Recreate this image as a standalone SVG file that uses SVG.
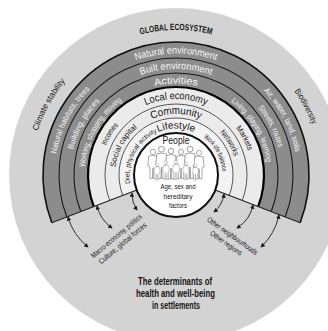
<svg xmlns="http://www.w3.org/2000/svg" xmlns:xlink="http://www.w3.org/1999/xlink" width="328" height="331" viewBox="0 0 328 331">
<style>
.t{font-family:"Liberation Sans Narrow","Liberation Sans",Arial,sans-serif;}
.w{fill:#f7f7f7;}
.k{fill:#161616;}
.arc{fill:none;}
.ar{fill:none;stroke:#1a1a1a;stroke-width:0.9;marker-start:url(#ah);marker-end:url(#ah);}
.pp{fill:#fff;stroke:#7d7d7d;stroke-width:0.7;}
</style>
<defs>
<marker id="ah" viewBox="0 0 6 6" refX="5" refY="3" markerWidth="5" markerHeight="5" orient="auto-start-reverse"><path d="M0,0 L6,3 L0,6 Z" fill="#1a1a1a"/></marker>
<path id="tp145" d="M40.63,226.97 A145,145 0 1 1 311.37,226.97"/>
<path id="tp121" d="M62.57,218.55 A121.5,121.5 0 1 1 289.43,218.55"/>
<path id="tp106" d="M77.04,212.99 A106,106 0 1 1 274.96,212.99"/>
<path id="tp91" d="M90.58,207.79 A91.5,91.5 0 1 1 261.42,207.79"/>
<path id="tp76" d="M105.05,202.24 A76,76 0 1 1 246.95,202.24"/>
<path id="tp61" d="M119.05,196.86 A61,61 0 1 1 232.95,196.86"/>
<path id="tp46" d="M132.59,191.67 A46.5,46.5 0 1 1 219.41,191.67"/>
<g id="pp" class="pp"><circle cx="0" cy="3" r="2.8"/><path d="M-4.5,7.5 Q0,5.8 4.5,7.5 L5.5,18 L3.5,18.5 L3,31 L0.6,31 L0,20 L-0.6,31 L-3,31 L-3.5,18.5 L-5.5,18 Z"/></g>
</defs>

<g id="ecosystem">
<circle cx="176" cy="175" r="167" fill="#d3d3d3"/>
<text class="t k" font-size="9" font-weight="bold"><textPath href="#tp145" startOffset="50%" text-anchor="middle" textLength="72" lengthAdjust="spacingAndGlyphs">GLOBAL ECOSYSTEM</textPath></text>
<text class="t k" font-size="8.5"><textPath href="#tp145" startOffset="22.5%" text-anchor="middle" textLength="57" lengthAdjust="spacingAndGlyphs">Climate stability</textPath></text>
<text class="t k" font-size="8.5"><textPath href="#tp145" startOffset="78%" text-anchor="middle" textLength="38" lengthAdjust="spacingAndGlyphs">Biodiversity</textPath></text>
</g>

<g id="bands-fill">
<path d="M176,175 L51.83,222.67 A133,133 0 1 1 300.17,222.67 Z" fill="#8c8c8c"/>
<path d="M176,175 L93.84,206.54 A88,88 0 1 1 258.16,206.54 Z" fill="#ebebeb"/>
<path d="M176,175 L122.78,195.43 A57,57 0 1 1 229.22,195.43 Z" fill="#f3f3f3"/>
</g>

<g id="band-lines" fill="none">
<path d="M51.83,222.67 A133,133 0 1 1 300.17,222.67" stroke="#111" stroke-width="1.6"/>
<path d="M66.77,216.93 A117,117 0 1 1 285.23,216.93" stroke="#1a1a1a" stroke-width="1.1"/>
<path d="M80.77,211.56 A102,102 0 1 1 271.23,211.56" stroke="#1a1a1a" stroke-width="1.1"/>
<path d="M109.71,200.45 A71,71 0 1 1 242.29,200.45" stroke="#444" stroke-width="0.9"/>
<path d="M122.78,195.43 A57,57 0 1 1 229.22,195.43" stroke="#444" stroke-width="0.9"/>
<path d="M93.84,206.54 A88,88 0 1 1 258.16,206.54" stroke="#000" stroke-width="2.2"/>
<path d="M136.79,190.05 L51.83,222.67 M215.21,190.05 L300.17,222.67" stroke="#222" stroke-width="1.1"/>
</g>

<g id="natural-environment">
<text class="t w" font-size="10"><textPath href="#tp121" startOffset="50%" text-anchor="middle" textLength="82" lengthAdjust="spacingAndGlyphs">Natural environment</textPath></text>
<text class="t w" font-size="8"><textPath href="#tp121" startOffset="21.8%" text-anchor="middle" textLength="74" lengthAdjust="spacingAndGlyphs">Natural habitats, trees</textPath></text>
<text class="t w" font-size="8"><textPath href="#tp121" startOffset="78.2%" text-anchor="middle" textLength="70" lengthAdjust="spacingAndGlyphs">Air, water, land, soils</textPath></text>
</g>

<g id="built-environment">
<text class="t w" font-size="10"><textPath href="#tp106" startOffset="50%" text-anchor="middle" textLength="72" lengthAdjust="spacingAndGlyphs">Built environment</textPath></text>
<text class="t w" font-size="8"><textPath href="#tp106" startOffset="22.5%" text-anchor="middle" textLength="56" lengthAdjust="spacingAndGlyphs">Building, places</textPath></text>
<text class="t w" font-size="8"><textPath href="#tp106" startOffset="78.3%" text-anchor="middle" textLength="45" lengthAdjust="spacingAndGlyphs">Streets, routes</textPath></text>
</g>

<g id="activities">
<text class="t w" font-size="10"><textPath href="#tp91" startOffset="50%" text-anchor="middle" textLength="43" lengthAdjust="spacingAndGlyphs">Activities</textPath></text>
<text class="t w" font-size="8"><textPath href="#tp91" startOffset="22.7%" text-anchor="middle" textLength="78" lengthAdjust="spacingAndGlyphs">Working, shopping, moving</textPath></text>
<text class="t w" font-size="8"><textPath href="#tp91" startOffset="76.8%" text-anchor="middle" textLength="72" lengthAdjust="spacingAndGlyphs">Living, playing, learning</textPath></text>
</g>

<g id="local-economy">
<text class="t k" font-size="10.5"><textPath href="#tp76" startOffset="50%" text-anchor="middle" textLength="62" lengthAdjust="spacingAndGlyphs">Local economy</textPath></text>
<text class="t k" font-size="8"><textPath href="#tp76" startOffset="23.8%" text-anchor="middle" textLength="24" lengthAdjust="spacingAndGlyphs">Incomes</textPath></text>
<text class="t k" font-size="8"><textPath href="#tp76" startOffset="77.8%" text-anchor="middle" textLength="26" lengthAdjust="spacingAndGlyphs">Markets</textPath></text>
</g>

<g id="community">
<text class="t k" font-size="10.5"><textPath href="#tp61" startOffset="50%" text-anchor="middle" textLength="50" lengthAdjust="spacingAndGlyphs">Community</textPath></text>
<text class="t k" font-size="8"><textPath href="#tp61" startOffset="22.5%" text-anchor="middle" textLength="46" lengthAdjust="spacingAndGlyphs">Social capital</textPath></text>
<text class="t k" font-size="8"><textPath href="#tp61" startOffset="76.6%" text-anchor="middle" textLength="28" lengthAdjust="spacingAndGlyphs">Networks</textPath></text>
</g>

<g id="lifestyle">
<text class="t k" font-size="10"><textPath href="#tp46" startOffset="50%" text-anchor="middle" textLength="37" lengthAdjust="spacingAndGlyphs">Lifestyle</textPath></text>
<text class="t k" font-size="6.8"><textPath href="#tp46" startOffset="22%" text-anchor="middle" textLength="62" lengthAdjust="spacingAndGlyphs">Diet, physical activity</textPath></text>
<text class="t k" font-size="6.8"><textPath href="#tp46" startOffset="77.5%" text-anchor="middle" textLength="40" lengthAdjust="spacingAndGlyphs">Work-life balance</textPath></text>
</g>

<g id="people">
<circle cx="176" cy="175" r="42" fill="#fff" stroke="#111" stroke-width="2"/>
<text class="t k" x="176" y="144" font-size="10.5" text-anchor="middle" textLength="27" lengthAdjust="spacingAndGlyphs">People</text>
<use href="#pp" transform="translate(153,149) scale(0.95)"/>
<use href="#pp" transform="translate(161.5,146) scale(1.05)"/>
<use href="#pp" transform="translate(171,148) scale(1.0)"/>
<use href="#pp" transform="translate(181,149) scale(0.95)"/>
<use href="#pp" transform="translate(190,146) scale(1.05)"/>
<use href="#pp" transform="translate(199,150) scale(0.93)"/>
<use href="#pp" transform="translate(157,163) scale(0.55)"/>
<use href="#pp" transform="translate(166,161) scale(0.6)"/>
<use href="#pp" transform="translate(176,160) scale(0.63)"/>
<use href="#pp" transform="translate(186,162) scale(0.57)"/>
<use href="#pp" transform="translate(195.5,164) scale(0.52)"/>
<text class="t k" font-size="8" text-anchor="middle"><tspan x="178" y="189" textLength="35" lengthAdjust="spacingAndGlyphs">Age, sex and</tspan><tspan x="178" y="198.5" textLength="29" lengthAdjust="spacingAndGlyphs">hereditary</tspan><tspan x="178" y="207.5" textLength="18" lengthAdjust="spacingAndGlyphs">factors</tspan></text>
</g>

<g id="connectors">
<path class="ar" d="M68,217 Q73,235 88,247"/>
<path class="ar" d="M97,206 Q100.5,220 112,228"/>
<path class="ar" d="M132,193 Q131.6,202.4 137,210"/>
<path class="ar" d="M224,194 Q222.5,205 214,212"/>
<path class="ar" d="M253,205 Q250,220 237,228"/>
<path class="ar" d="M279,215 Q275,234 261,247"/>
</g>

<g id="outer-influences">
<text class="t k" font-size="7.5" text-anchor="middle" transform="translate(118,238) rotate(-40)"><tspan x="0" y="0" textLength="64" lengthAdjust="spacingAndGlyphs">Macro-economy, politics</tspan><tspan x="0" y="9.5" textLength="60" lengthAdjust="spacingAndGlyphs">Culture, global forces</tspan></text>
<text class="t k" font-size="7.5" text-anchor="middle" transform="translate(231,238) rotate(35)"><tspan x="0" y="0" textLength="60" lengthAdjust="spacingAndGlyphs">Other neighbourhoods</tspan><tspan x="-1" y="9.5" textLength="37" lengthAdjust="spacingAndGlyphs">Other regions</tspan></text>
</g>

<g id="title">
<text class="t k" font-size="11.5" font-weight="bold" text-anchor="middle"><tspan x="175" y="285" textLength="74" lengthAdjust="spacingAndGlyphs">The determinants of</tspan><tspan x="175.5" y="297" textLength="79" lengthAdjust="spacingAndGlyphs">health and well-being</tspan><tspan x="176" y="308.5" textLength="48" lengthAdjust="spacingAndGlyphs">in settlements</tspan></text>
</g>
</svg>
